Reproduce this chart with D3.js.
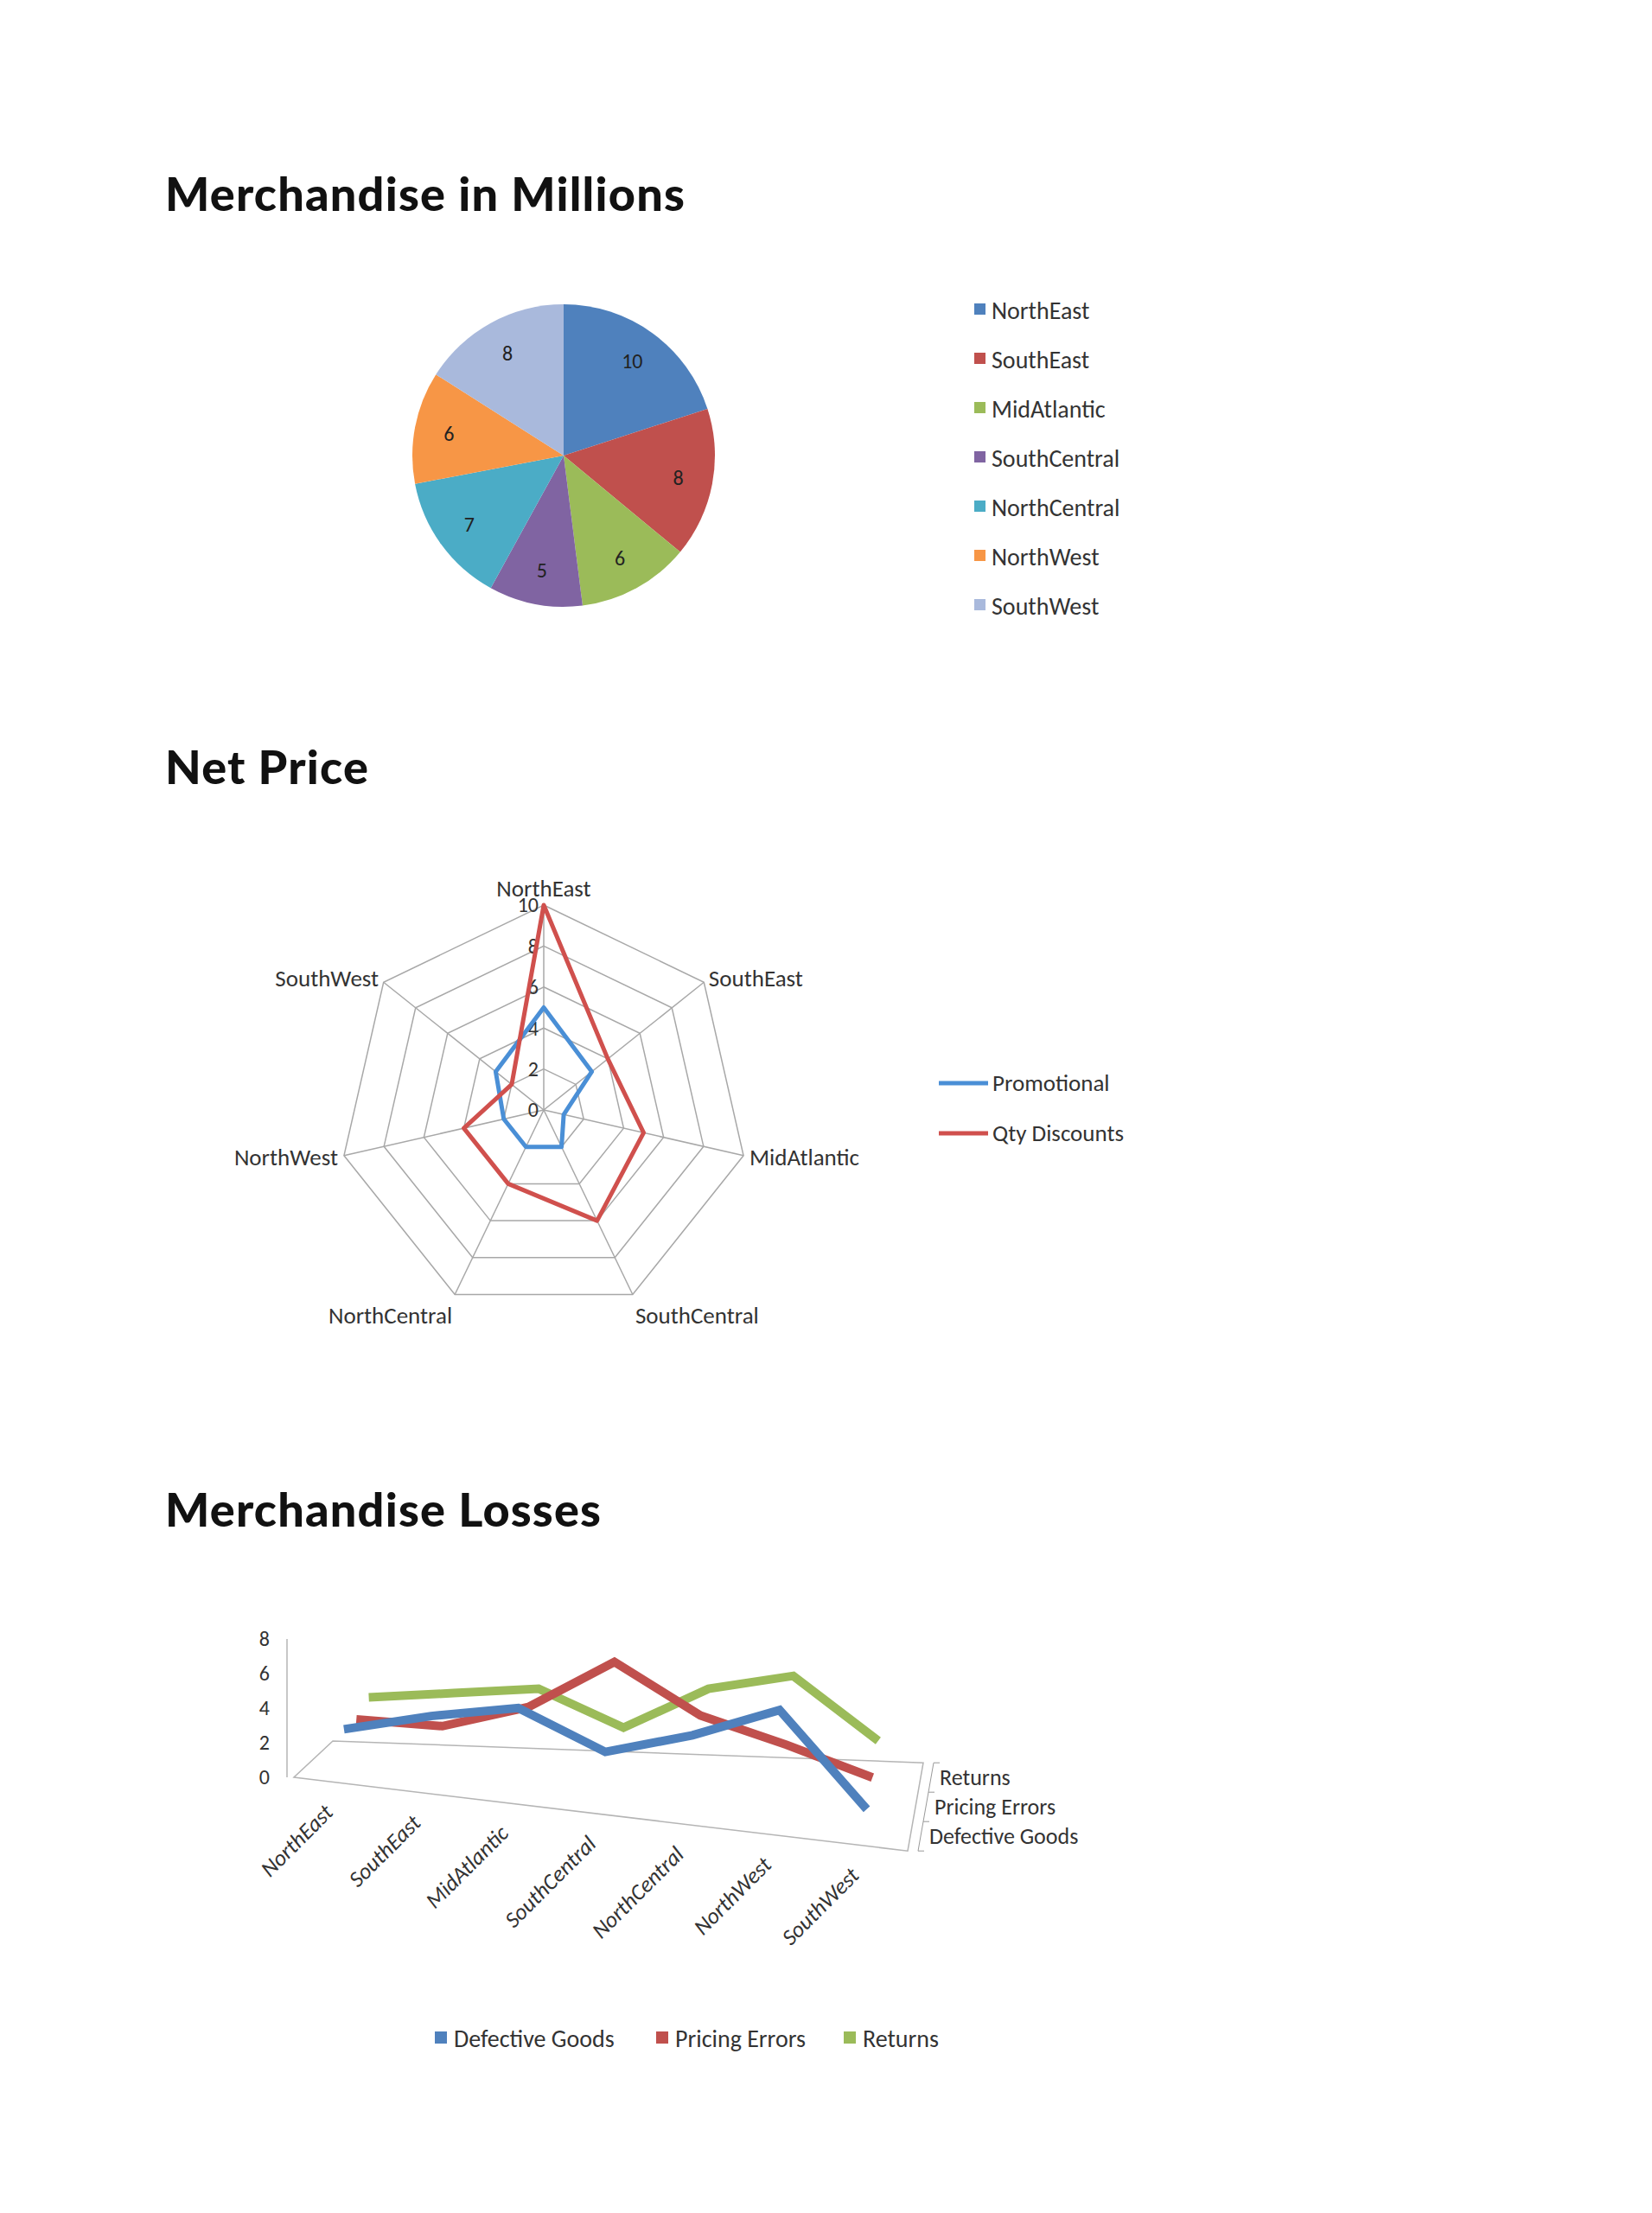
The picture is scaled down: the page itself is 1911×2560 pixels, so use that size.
<!DOCTYPE html>
<html><head><meta charset="utf-8">
<script src="https://cdn.jsdelivr.net/npm/d3@7"></script>
<style>body{margin:0;background:#fff}svg{display:block}</style>
</head><body>
<svg id="chart" width="1911" height="2560"></svg>
<script>
const regions = ["NorthEast","SouthEast","MidAtlantic","SouthCentral","NorthCentral","NorthWest","SouthWest"];
const merchandise = [10, 8, 6, 5, 7, 6, 8];
const promotional = [5, 3, 1, 2, 2, 2, 3];
const qtyDiscounts = [10, 4, 5, 6, 4, 4, 2];
const lossSeries = ["Defective Goods", "Pricing Errors", "Returns"];
const defective = [2.7, 4, 5, 3, 4.5, 6.5, 1.3];
const pricing = [2.5, 2.5, 4, 7, 4.3, 3, 1.5];
const returns = [3, 3.5, 4, 2, 4.5, 5.5, 2];
const radarTicks = [0, 2, 4, 6, 8, 10];
const lossTicks = [0, 2, 4, 6, 8];

const svg = d3.select("#chart");
const font = "Carlito, 'Liberation Sans', 'DejaVu Sans', sans-serif";
const titleFont = "Lato, 'Noto Sans', sans-serif";
const pieColors = ["#4f81bd","#c0504d","#9bbb59","#8064a2","#4bacc6","#f79646","#a9b9dc"];

function title(y, t) {
  svg.append("text").attr("x", 191).attr("y", y).attr("font-family", titleFont)
    .attr("font-weight", 900).attr("font-size", 54).attr("letter-spacing", 1.2)
    .attr("fill", "#111").text(t);
}
title(244, "Merchandise in Millions");
title(907, "Net Price");
title(1766, "Merchandise Losses");

// ---- pie
const pieG = svg.append("g").attr("transform", "translate(652,527)");
const arcs = d3.pie().sort(null)(merchandise);
const arc = d3.arc().innerRadius(0).outerRadius(175);
const labelArc = d3.arc().innerRadius(135).outerRadius(135);
pieG.selectAll("path").data(arcs).join("path")
  .attr("d", arc).attr("fill", (d, i) => pieColors[i]);
pieG.selectAll("text").data(arcs).join("text")
  .attr("transform", d => `translate(${labelArc.centroid(d)})`)
  .attr("text-anchor", "middle").attr("dy", "0.35em")
  .attr("font-family", font).attr("font-size", 24).attr("fill", "#222")
  .text(d => d.data);
const pieLeg = svg.append("g").attr("transform", "translate(1127,359)");
regions.forEach((r, i) => {
  const g = pieLeg.append("g").attr("transform", `translate(0,${i * 57})`);
  g.append("rect").attr("x", 0).attr("y", -8).attr("width", 13).attr("height", 13).attr("fill", pieColors[i]);
  g.append("text").attr("x", 20).attr("y", 0).attr("dy", "0.35em")
    .attr("font-family", font).attr("font-size", 28).attr("fill", "#333").text(r);
});

// ---- radar
const rc = {x: 629, y: 1284};
const rScale = d3.scaleLinear().domain([0, 10]).range([0, 237]);
const ang = i => i * 2 * Math.PI / regions.length;
const pt = (i, v) => [rc.x + rScale(v) * Math.sin(ang(i)), rc.y - rScale(v) * Math.cos(ang(i))];
const radar = svg.append("g");
radarTicks.slice(1).forEach(t => {
  radar.append("polygon").attr("points", regions.map((_, i) => pt(i, t).join(",")).join(" "))
    .attr("fill", "none").attr("stroke", "#a8a8a8").attr("stroke-width", 1.5);
});
regions.forEach((r, i) => {
  const p = pt(i, 10);
  radar.append("line").attr("x1", rc.x).attr("y1", rc.y).attr("x2", p[0]).attr("y2", p[1])
    .attr("stroke", "#a8a8a8").attr("stroke-width", 1.5);
  const lp = pt(i, 10.3);
  const s = Math.sin(ang(i));
  radar.append("text").attr("x", lp[0]).attr("y", i === 0 ? lp[1] - 12 : lp[1] + (Math.cos(ang(i)) < -0.5 ? 18 : 0))
    .attr("text-anchor", Math.abs(s) < 0.1 ? "middle" : s > 0 ? "start" : "end")
    .attr("dy", "0.35em").attr("font-family", font).attr("font-size", 27).attr("fill", "#333").text(r);
});
radarTicks.forEach(t => {
  radar.append("text").attr("x", rc.x - 6).attr("y", rc.y - rScale(t)).attr("dy", "0.35em")
    .attr("text-anchor", "end").attr("font-family", font).attr("font-size", 24).attr("fill", "#333").text(t);
});
const radarLine = d3.line().curve(d3.curveLinearClosed);
const radarSeries = [["Promotional", promotional, "#4a8fd6"], ["Qty Discounts", qtyDiscounts, "#d0504d"]];
radarSeries.forEach(([name, vals, c]) => {
  radar.append("path").attr("d", radarLine(vals.map((v, i) => pt(i, v))))
    .attr("fill", "none").attr("stroke", c).attr("stroke-width", 5).attr("stroke-linejoin", "round");
});
radarSeries.forEach(([name, vals, c], i) => {
  const y = 1253 + i * 58;
  svg.append("line").attr("x1", 1086).attr("x2", 1143).attr("y1", y).attr("y2", y).attr("stroke", c).attr("stroke-width", 5);
  svg.append("text").attr("x", 1148).attr("y", y).attr("dy", "0.35em").attr("font-family", font)
    .attr("font-size", 27).attr("fill", "#333").text(name);
});

// ---- pseudo 3D line chart
const lossColors = ["#4f81bd", "#c0504d", "#9bbb59"];
const xIdx = d3.scaleLinear().domain([-0.5, 6.5]).range([340, 1050]);
const vScale = d3.scaleLinear().domain([0, 8]).range([0, 160]);
const proj = (i, dp, v) => {
  const x = xIdx(i);
  const t = (i + 0.5) / 7;
  const ddx = 15 + (6 - 15) * t, ddy = -14 + (-34 + 14) * t;
  return [x + dp * ddx, 2056 + (x - 340) * 0.12 + dp * ddy - vScale(v)];
};
const g3 = svg.append("g");
const floorPts = [proj(-0.5, 0, 0), proj(6.5, 0, 0), proj(6.5, 3, 0), proj(-0.5, 3, 0)];
g3.append("polygon").attr("points", floorPts.map(p => p.join(",")).join(" "))
  .attr("fill", "none").attr("stroke", "#b5b5b5").attr("stroke-width", 1.5);
const ax0 = proj(-0.5, 0, 0), ax1 = proj(-0.5, 0, 8);
g3.append("line").attr("x1", ax0[0] - 8).attr("y1", ax0[1]).attr("x2", ax1[0] - 8).attr("y2", ax1[1])
  .attr("stroke", "#b5b5b5").attr("stroke-width", 1.5);
lossTicks.forEach(t => {
  const p = proj(-0.5, 0, t);
  g3.append("text").attr("x", p[0] - 28).attr("y", p[1]).attr("dy", "0.35em").attr("text-anchor", "end")
    .attr("font-family", font).attr("font-size", 24).attr("fill", "#333").text(t);
});
const dA = proj(6.5, 0, 0), dB = proj(6.5, 3, 0);
g3.append("line").attr("x1", dA[0] + 12).attr("y1", dA[1]).attr("x2", dB[0] + 12).attr("y2", dB[1]).attr("stroke", "#999");
[0, 1, 2, 3].forEach(k => {
  const p = proj(6.5, k, 0);
  g3.append("line").attr("x1", p[0] + 12).attr("x2", p[0] + 19).attr("y1", p[1]).attr("y2", p[1]).attr("stroke", "#999");
});
lossSeries.forEach((s, k) => {
  const p = proj(6.5, k + 0.5, 0);
  g3.append("text").attr("x", p[0] + 22).attr("y", p[1]).attr("dy", "0.35em")
    .attr("font-family", font).attr("font-size", 26).attr("fill", "#333").text(s);
});
const lossData = [defective, pricing, returns];
const l3 = d3.line();
[2, 1, 0].forEach(k => {
  g3.append("path").attr("d", l3(lossData[k].map((v, i) => proj(i, k + 0.5, v))))
    .attr("fill", "none").attr("stroke", lossColors[k]).attr("stroke-width", 10).attr("stroke-linejoin", "miter");
});
regions.forEach((r, i) => {
  const p = proj(i, 0, 0);
  g3.append("text").attr("transform", `translate(${p[0] - 4},${p[1] + 36}) rotate(-45)`)
    .attr("text-anchor", "end").attr("font-family", font).attr("font-style", "italic")
    .attr("font-size", 26).attr("fill", "#333").text(r);
});
const legX = [503, 759, 976];
lossSeries.forEach((s, k) => {
  svg.append("rect").attr("x", legX[k]).attr("y", 2350).attr("width", 14).attr("height", 14).attr("fill", lossColors[k]);
  svg.append("text").attr("x", legX[k] + 22).attr("y", 2358).attr("dy", "0.35em").attr("font-family", font)
    .attr("font-size", 28).attr("fill", "#333").text(s);
});
</script>
</body></html>
